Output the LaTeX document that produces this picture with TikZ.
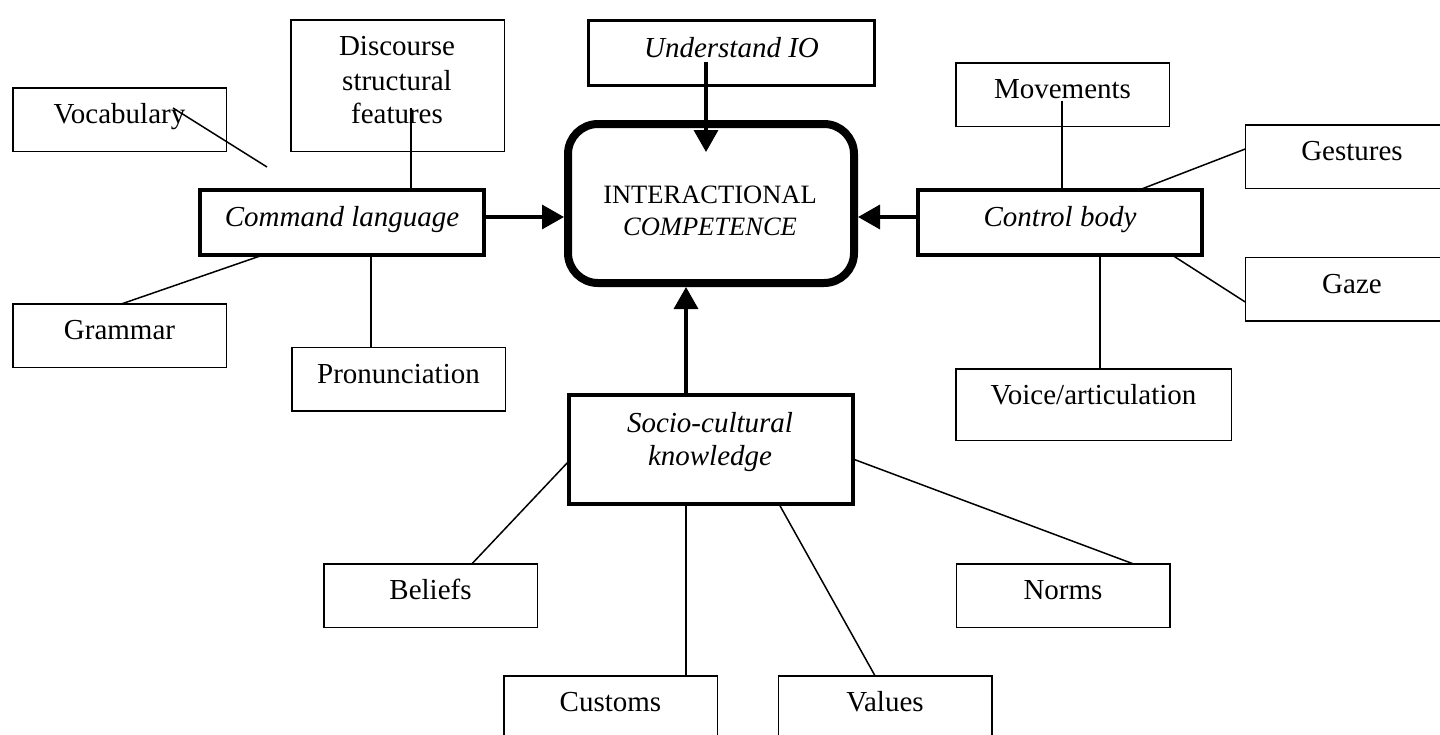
\documentclass[tikz,border=0pt]{standalone}
\usepackage{fontspec}
\setmainfont{Liberation Serif}
\usetikzlibrary{arrows.meta,calc}
\begin{document}
\begin{tikzpicture}[x=1pt,y=-1pt,
  lbl/.style={font=\fontsize{29}{34}\selectfont},
  thinbox/.style={lbl, draw, line width=1.5pt, minimum width=213.5pt, minimum height=63.5pt,
    inner sep=0pt, outer sep=0pt, text height=20pt, text depth=12pt},
  thickbox/.style={lbl, draw, line width=4pt, minimum width=284pt, minimum height=65pt,
    inner sep=0pt, outer sep=0pt, text height=20pt, text depth=12pt, font=\fontsize{29}{34}\selectfont\itshape},
  txt/.style={anchor=base, inner sep=0pt, outer sep=0pt},
  conn/.style={line width=1.5pt},
  arr/.style={line width=3.5pt, -{Triangle[length=22pt,width=24pt]}}]
\useasboundingbox (0,0) rectangle (1440,734);
\clip (0,0) rectangle (1440,734);

% central node
\node[draw, line width=8pt, rounded corners=30pt, minimum width=286pt, minimum height=159pt,
  inner sep=0pt, outer sep=4pt] (ic) at (711,203.5) {};
\node[txt, font=\fontsize{26.5}{32}\selectfont] (ic1) at (710,203) {INTERACTIONAL};
\node[txt, font=\fontsize{26.5}{32}\selectfont\itshape] (ic2) at (710,235) {COMPETENCE};

% main nodes
\node[thickbox] (cmd) at (342,222.5) {Command language};
\node[thickbox] (ctl) at (1060,222.5) {Control body};
\node[thickbox, line width=3pt, minimum width=286pt] (io) at (731.5,53) {Understand IO};
\node[thickbox, minimum height=109pt] (soc) at (711,449.5) {};
\node[txt, font=\fontsize{29}{34}\selectfont\itshape] (soc1) at (710,432) {Socio-cultural};
\node[txt, font=\fontsize{29}{34}\selectfont\itshape] (soc2) at (710,465) {knowledge};

% language components
\node[thinbox] (vocab) at (119.5,119.5) {Vocabulary};
\node[thinbox, minimum height=131.5pt] (disc) at (397.5,85.5) {};
\node[txt, lbl] (disc1) at (397,55) {Discourse};
\node[txt, lbl] (disc2) at (397,90) {structural};
\node[txt, lbl] (disc3) at (397,123) {features};
\node[thinbox] (gram) at (119.5,335.5) {Grammar};
\node[thinbox] (pron) at (398.5,379) {Pronunciation};

% body components
\node[thinbox] (mov) at (1062.5,94.5) {Movements};
\node[thinbox] (gest) at (1352,156.5) {Gestures};
\node[thinbox] (gaze) at (1352,289) {Gaze};
\node[thinbox, minimum width=275.5pt, minimum height=71.5pt, text height=20pt, text depth=20pt] (voice) at (1093.5,404.5) {Voice/articulation};

% socio-cultural components
\node[thinbox] (bel) at (430.5,595.5) {Beliefs};
\node[thinbox] (cust) at (610.5,707.5) {Customs};
\node[thinbox] (val) at (885,707.5) {Values};
\node[thinbox] (norms) at (1063,595.5) {Norms};

% arrows into the centre
\coordinate (la) at ($(cmd.east)+(0,-5.5)$);
\draw[arr] (la) -- (la -| ic.west);
\coordinate (ra) at ($(ctl.west)+(0,-5.5)$);
\draw[arr] (ra) -- (ra -| ic.east);
\draw[arr] ($(io.center)+(-25.5,9)$) -- ($(ic.north)+(-5,32)$);
\coordinate (s1) at ($(soc.north)+(-25,0)$);
\draw[arr] (s1) -- (s1 |- ic.south);

% language connectors
\coordinate (vend) at (267,167);
\draw[conn] ($(vocab.center)+(53.5,-11.5)$) -- (vend);
\coordinate (d1) at ($(disc.center)+(13.5,22.5)$);
\draw[conn] (d1) -- (d1 |- cmd.north);
\draw[conn] ($(gram.north)+(2.5,0)$) -- ($(cmd.south)+(-79,0)$);
\coordinate (p1) at ($(cmd.south)+(29,0)$);
\draw[conn] (p1) -- (p1 |- pron.north);

% body connectors
\coordinate (m1) at ($(mov.center)+(-0.5,6.5)$);
\draw[conn] (m1) -- (m1 |- ctl.north);
\draw[conn] ($(gest.west)+(0,-7.5)$) -- ($(ctl.north)+(79,0)$);
\draw[conn] ($(ctl.south)+(112,0)$) -- ($(gaze.west)+(0,13)$);
\coordinate (v1) at ($(ctl.south)+(40,0)$);
\draw[conn] (v1) -- (v1 |- voice.north);

% socio-cultural connectors
\draw[conn] ($(bel.north)+(41.5,0)$) -- ($(soc.west)+(0,11.5)$);
\coordinate (c1) at ($(soc.south)+(-25,0)$);
\draw[conn] (c1) -- (c1 |- cust.north);
\draw[conn] ($(soc.south)+(68,0)$) -- ($(val.north)+(-10,0)$);
\draw[conn] ($(soc.east)+(0,9.5)$) -- ($(norms.north)+(70,0)$);
\end{tikzpicture}
\end{document}
